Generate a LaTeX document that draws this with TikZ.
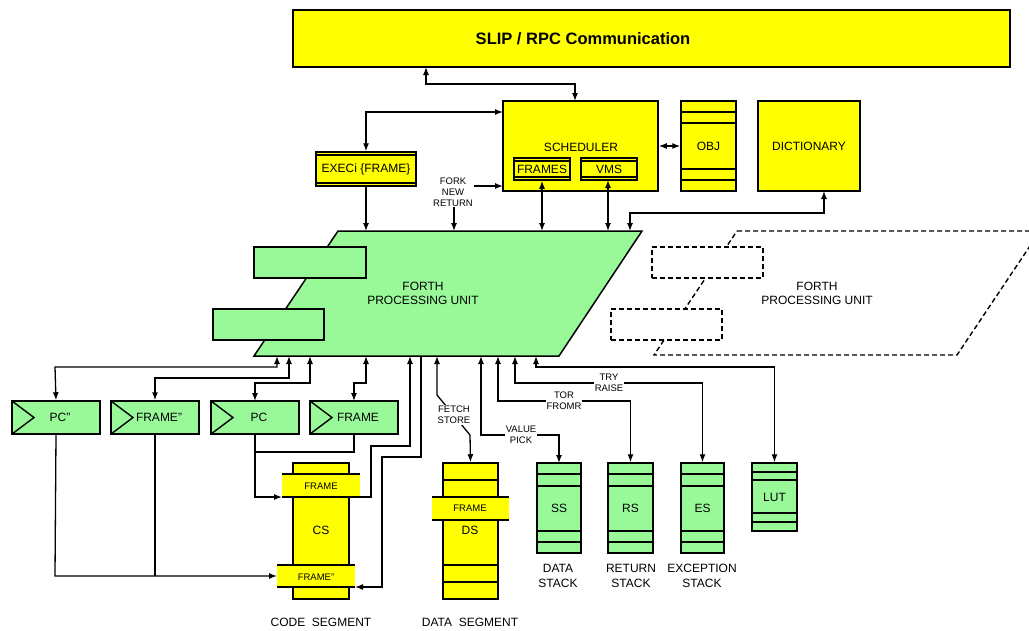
\documentclass[tikz,border=0pt]{standalone}
\usepackage{fontspec}
\setmainfont{Liberation Sans}
\usetikzlibrary{arrows.meta,calc}
\definecolor{ylw}{RGB}{255,255,0}
\definecolor{grn}{RGB}{153,249,153}
\definecolor{txt}{RGB}{25,25,25}
\newcommand\Rbox[7]{\node[#2,minimum width={(#5-#3)*1pt},minimum height={(#6-#4)*1pt},inner sep=0pt,anchor=center] (#1) at ({(#3+#5)/2},{(#4+#6)/2}) {#7};}
\begin{document}
\begin{tikzpicture}[x=1pt,y=-1pt,
  box/.style={draw,line width=1.5pt},
  ybox/.style={box,fill=ylw,font=\fontsize{12}{14}\selectfont},
  gbox/.style={box,fill=grn,font=\fontsize{12}{14}\selectfont},
  dbox/.style={draw,line width=1.4pt,dash pattern=on 5pt off 3pt,fill=white},
  con/.style={line width=1.3pt},
  arr/.style={con,-{Latex[length=8pt,width=6pt]}},
  both/.style={con,{Latex[length=8pt,width=6pt]}-{Latex[length=8pt,width=6pt]}},
  lbl/.style={font=\fontsize{12}{14}\selectfont,align=center,inner sep=1pt},
  sml/.style={font=\fontsize{9.5}{11}\selectfont,align=center,inner sep=1pt,fill=white},
  bandtxt/.style={font=\fontsize{9.5}{11}\selectfont,inner sep=0pt},
]
\path[use as bounding box,clip] (0,0) rectangle (1029,630);
\fill[white] (0,0) rectangle (1029,630);

% top blocks
\Rbox{slip}{ybox}{293}{10}{1010}{67}{}
\node[font=\bfseries\fontsize{16.5}{18}\selectfont] (sliptxt) at (583,39) {SLIP / RPC Communication};
\Rbox{sched}{ybox}{503}{101}{658}{191}{}
\node[lbl] (schedtxt) at (581,147) {SCHEDULER};
\Rbox{frames}{ybox}{514}{158}{570}{180}{FRAMES}
\draw[line width=1.2pt] (514,161) -- (570,161) (514,177) -- (570,177);
\Rbox{vms}{ybox}{581}{158}{637}{180}{VMS}
\draw[line width=1.2pt] (581,161) -- (637,161) (581,177) -- (637,177);
\Rbox{exec}{ybox}{316}{152}{416}{186}{EXECi \{FRAME\}}
\draw[line width=1.2pt] (316,155) -- (416,155) (316,183) -- (416,183);
\Rbox{obj}{ybox}{681}{101}{736}{191}{OBJ}
\draw[line width=1.4pt] (681,112) -- (736,112) (681,123) -- (736,123) (681,169) -- (736,169) (681,180) -- (736,180);
\Rbox{dict}{ybox}{758}{101}{860}{191}{DICTIONARY}

% dashed second FPU
\draw[dbox] (737,231) -- (1040,231) -- (957,355) -- (654,355) -- cycle;
\Rbox{dr1}{dbox}{652}{247}{763}{278}{}
\Rbox{dr2}{dbox}{611}{309}{722}{340}{}
\node[lbl] (fpu2) at (817,293) {FORTH\\PROCESSING UNIT};

% FPU
\draw[box,fill=grn] (338,231) -- (642,231) -- (559,356) -- (254,356) -- cycle;
\Rbox{fr1}{gbox}{254}{247}{366}{278}{}
\Rbox{fr2}{gbox}{213}{309}{324}{340}{}
\node[lbl] (fpu) at (423,293) {FORTH\\PROCESSING UNIT};

% top connectors
\draw[both] (426,67) -- (426,84) -- (575,84) -- (575,101);
\draw[both] (exec.north) -- (366,112) -- (503,112);
\draw[both] (sched.east) -- (obj.west);
\draw[arr] (exec.south) -- (366,231);
\draw[both] (454,231) -- (454,186) -- (503,186);
\node[sml] (fork) at (453,192) {FORK\\NEW\\RETURN};
\draw[both] (frames.south) -- (542,231);
\draw[both] (608,180) -- (608,231);
\draw[both] (824,191) -- (824,213) -- (630,213) -- (630,231);

% registers
\Rbox{pcpp}{gbox}{12}{401}{100}{434}{\hspace*{8pt}PC"}
\Rbox{frpp}{gbox}{111}{401}{199}{434}{\hspace*{8pt}FRAME"}
\Rbox{pc}{gbox}{211}{401}{299}{434}{\hspace*{8pt}PC}
\Rbox{frm}{gbox}{310}{401}{398}{434}{\hspace*{8pt}FRAME}
\foreach \x in {12,111,211,310}{\draw[line width=1.4pt] (\x,401) -- (\x+22,417.5) -- (\x,434);}

% bottom connectors to registers
\draw[both] (277,356) -- (277,367) -- (55,367) -- (pcpp.north);
\draw[both] (289,356) -- (289,378) -- (155,378) -- (frpp.north);
\draw[both] (310,356) -- (310,383) -- (255,383) -- (255,401);
\draw[both] (366,356) -- (366,383) -- (354,383) -- (354,401);

% code segment
\Rbox{cs}{ybox}{293}{463}{349}{599}{}
\fill[ylw] (282,474) rectangle (360,497);
\draw[box] (282,474) -- (360,474) (282,497) -- (360,497);
\node[bandtxt] (csf) at (321,486) {FRAME};
\fill[ylw] (277,565) rectangle (355,587);
\draw[box] (277,565) -- (355,565) (277,587) -- (355,587);
\node[bandtxt] (csfpp) at (316,577) {FRAME"};
\node[lbl] (cstxt) at (321,530) {CS};
\node[lbl] (cslab) at (321,622) {CODE\ \ SEGMENT};

% data segment
\Rbox{ds}{ybox}{443}{463}{498}{599}{}
\draw[line width=1.4pt] (443,480) -- (498,480) (443,565) -- (498,565) (443,582) -- (498,582);
\fill[ylw] (432,497) rectangle (509,520);
\draw[box] (432,497) -- (509,497) (432,520) -- (509,520);
\node[bandtxt] (dsf) at (470,508) {FRAME};
\node[lbl] (dstxt) at (470,530) {DS};
\node[lbl] (dslab) at (470,622) {DATA\ \ SEGMENT};

% register to segment connectors
\draw[arr] (pc.south) -- (255,497) -- (282,497);
\draw[con] (frm.south) -- (354,452) -- (255,452);
\draw[arr] (pcpp.south) -- (55,576) -- (277,576);
\draw[con] (frpp.south) -- (155,576);
\draw[arr] (360,497) -- (371,497) -- (371,446) -- (410,446) -- (410,356);
\draw[arr] (421,356) -- (421,457) -- (382,457) -- (382,587) -- (355,587);

% stacks
\Rbox{ss}{gbox}{537}{463}{581}{553}{SS}
\Rbox{rs}{gbox}{608}{463}{653}{553}{RS}
\Rbox{es}{gbox}{681}{463}{724}{553}{ES}
\foreach \a/\b in {537/581,608/653,681/724}{
  \draw[line width=1.4pt] (\a,474) -- (\b,474) (\a,486) -- (\b,486) (\a,531) -- (\b,531) (\a,542) -- (\b,542);}
\Rbox{lut}{gbox}{752}{463}{797}{531}{}
\draw[line width=1.4pt] (752,472) -- (797,472) (752,480) -- (797,480) (752,513) -- (797,513) (752,522) -- (797,522);
\node[lbl] (luttxt) at (774.5,497) {LUT};
\node[font=\fontsize{12}{15}\selectfont,align=center] (sslab) at (558,575.5) {DATA\\STACK};
\node[font=\fontsize{12}{15}\selectfont,align=center] (rslab) at (631,575.5) {RETURN\\STACK};
\node[font=\fontsize{12}{15}\selectfont,align=center] (eslab) at (702,575.5) {EXCEPTION\\STACK};

% FPU to segments / stacks
\draw[both] (437,356) -- (437,395) -- (470,435) -- (ds.north);
\node[sml] (fetch) at (454,415) {FETCH\\STORE};
\draw[both] (481,356) -- (481,435) -- (559,435) -- (559,463);
\node[sml] (value) at (521,435) {VALUE\\PICK};
\draw[both] (498,356) -- (498,401) -- (630.5,401) -- (rs.north);
\node[sml] (tor) at (564,401) {TOR\\FROMR};
\draw[both] (515,356) -- (515,383) -- (702.5,383) -- (es.north);
\node[sml] (try) at (609,383) {TRY\\RAISE};
\draw[both] (536,356) -- (536,367) -- (774.5,367) -- (lut.north);
\end{tikzpicture}
\end{document}
